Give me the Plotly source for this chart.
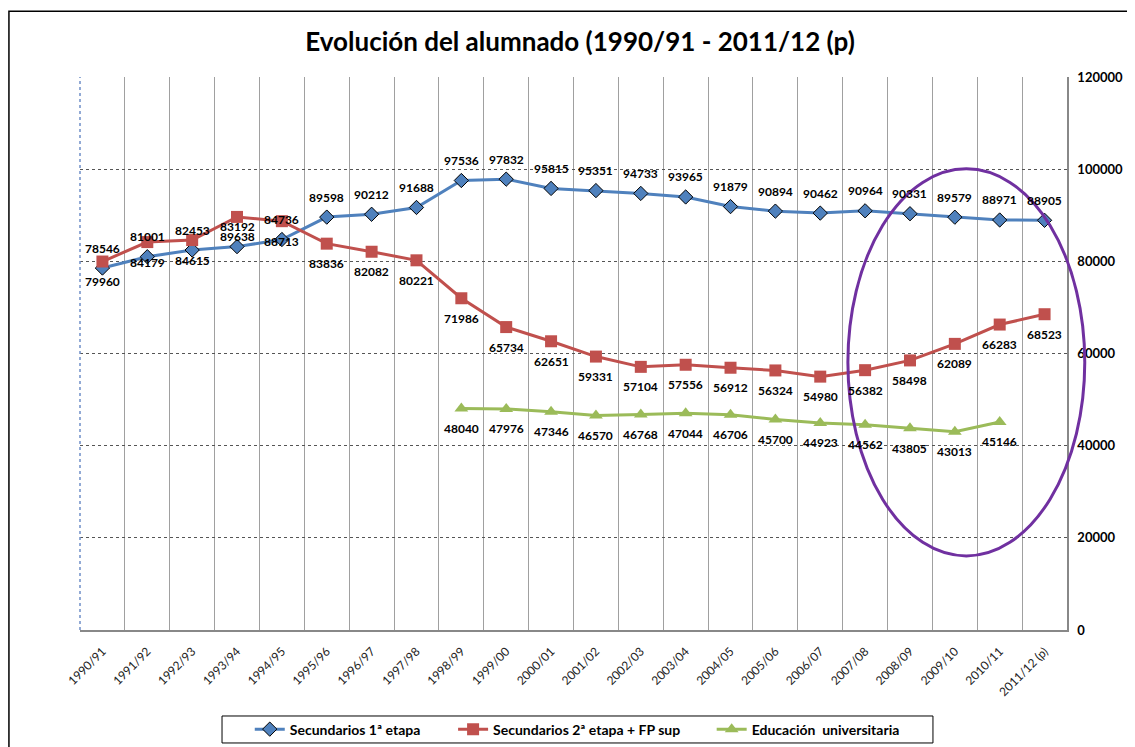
import plotly.graph_objects as go

########## DATA ##########
cursos = ['1990/91', '1991/92', '1992/93', '1993/94', '1994/95', '1995/96', '1996/97',
          '1997/98', '1998/99', '1999/00', '2000/01', '2001/02', '2002/03', '2003/04',
          '2004/05', '2005/06', '2006/07', '2007/08', '2008/09', '2009/10', '2010/11',
          '2011/12 (p)']

sec_1_etapa = [78546, 81001, 82453, 83192, 84736, 89598, 90212, 91688, 97536, 97832, 95815,
               95351, 94733, 93965, 91879, 90894, 90462, 90964, 90331, 89579, 88971, 88905]

sec_2_etapa_fp = [79960, 84179, 84615, 89638, 88713, 83836, 82082, 80221, 71986, 65734, 62651,
                  59331, 57104, 57556, 56912, 56324, 54980, 56382, 58498, 62089, 66283, 68523]

# universitaria starts in 1998/99 and has no value for 2011/12
universitaria = [None] * 8 + [48040, 47976, 47346, 46570, 46768, 47044, 46706, 45700, 44923,
                              44562, 43805, 43013, 45146, None]

y_ticks = [0, 20000, 40000, 60000, 80000, 100000, 120000]

########## PLOT ##########
FONT = 'Lato'
BLUE = '#4F81BD'
RED = '#C0504D'
GREEN = '#9BBB59'

fig = go.Figure()

fig.add_trace(go.Scatter(
    x=cursos, y=sec_1_etapa, name='Secundarios 1ª etapa', mode='lines+markers', legend='legend',
    line=dict(color=BLUE, width=3),
    marker=dict(symbol='diamond', size=11, color=BLUE, line=dict(color='black', width=1))))

fig.add_trace(go.Scatter(
    x=cursos, y=sec_2_etapa_fp, name='Secundarios 2ª etapa + FP sup', mode='lines+markers',
    legend='legend2', line=dict(color=RED, width=3),
    marker=dict(symbol='square', size=12, color=RED)))

fig.add_trace(go.Scatter(
    x=cursos, y=universitaria, name='Educación  universitaria', mode='lines+markers',
    legend='legend3', line=dict(color=GREEN, width=3),
    marker=dict(symbol='triangle-up', size=12, color=GREEN)))

# data labels: blue above the points, red and green below
for serie, shift in [(sec_1_etapa, 20), (sec_2_etapa_fp, -20), (universitaria, -20)]:
    for curso, v in zip(cursos, serie):
        if v is None:
            continue
        fig.add_annotation(x=curso, y=v, text=str(v), showarrow=False, yshift=shift,
                           font=dict(family=FONT, size=12, color='black', weight='bold'))

# outer chart frame
fig.add_shape(type='rect', xref='paper', yref='paper', x0=-0.072, x1=1.2, y0=-0.4, y1=1.119,
              line=dict(color='black', width=1.5), layer='below')
# dotted left edge of the plot area
fig.add_shape(type='line', xref='paper', yref='paper', x0=0, x1=0, y0=0, y1=1,
              line=dict(color='#6F8FC8', width=1.5, dash='dot'))
# purple ellipse over the last years
fig.add_shape(type='circle', xref='paper', yref='paper', x0=0.778, x1=1.018, y0=0.134, y1=0.834,
              line=dict(color='#7030A0', width=3))
# legend box (three legends share one frame)
fig.add_shape(type='rect', xref='paper', yref='paper', x0=0.1439, x1=0.8642, y0=-0.2043, y1=-0.1555,
              line=dict(color='black', width=1), fillcolor='white', layer='below')

legend_style = dict(orientation='h', xanchor='left', y=-0.180, yanchor='middle',
                    bgcolor='rgba(0,0,0,0)', borderwidth=0,
                    font=dict(family=FONT, size=14, weight='bold'), itemwidth=30)

# the page body adds an 8px offset, margins compensate for it
fig.update_layout(
    width=1135, height=747,
    margin=dict(l=72, r=76, t=69, b=125, autoexpand=False),
    paper_bgcolor='white', plot_bgcolor='white',
    font=dict(family=FONT, color='black'),
    title=dict(text='Evolución del alumnado (1990/91 - 2011/12 (p)', x=0.504, xanchor='center',
               y=0.955, yanchor='middle', font=dict(family=FONT, size=26, weight='bold')),
    showlegend=True,
    legend=dict(x=0.172, **legend_style),
    legend2=dict(x=0.378, **legend_style),
    legend3=dict(x=0.640, **legend_style),
    xaxis=dict(type='category', range=[-0.5, len(cursos) - 0.5], tickangle=-45,
               tickson='boundaries', ticks='',
               showgrid=True, gridcolor='#A0A0A0', gridwidth=1,
               showline=True, linecolor='#888888', linewidth=1.5, automargin=False,
               tickfont=dict(family=FONT, size=12, color='#222222'), ticklabelstandoff=8),
    yaxis=dict(side='right', range=[0, 120000], tickvals=y_ticks, ticktext=[str(v) for v in y_ticks],
               showgrid=True, gridcolor='#555555', griddash='dot', gridwidth=1,
               showline=True, linecolor='#888888', linewidth=1.5, zeroline=False,
               ticks='outside', ticklen=6, tickcolor='rgba(0,0,0,0)', automargin=False,
               tickfont=dict(family=FONT, size=13, weight='bold')),
)

fig.write_html("out.html")
